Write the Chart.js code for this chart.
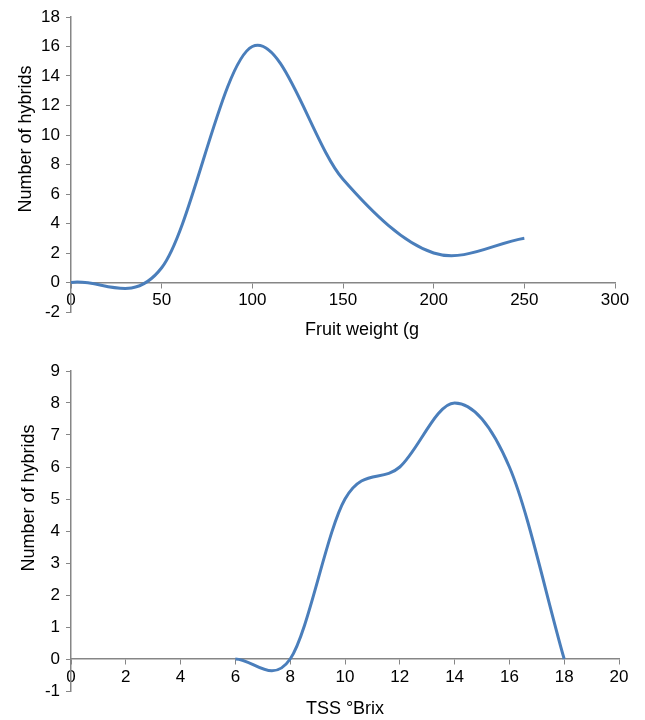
<!DOCTYPE html>
<html>
<head>
<meta charset="utf-8">
<script src="https://cdn.jsdelivr.net/npm/chart.js@4"></script>
<style>
  body { margin: 0; background: #fff; }
  canvas { display: block; }
</style>
</head>
<body>
<canvas id="weightChart" width="645" height="350"></canvas>
<canvas id="tssChart" width="645" height="370"></canvas>
<script>
// --- DATA ---
// Fruit weight (g) vs number of hybrids
const weightX = [0, 50, 100, 150, 200, 250];
const weightCount = [0, 1, 16, 7, 2, 3];
const weightXTicks = [0, 50, 100, 150, 200, 250, 300];
const weightYTicks = [-2, 0, 2, 4, 6, 8, 10, 12, 14, 16, 18];

// TSS (°Brix) vs number of hybrids
const tssX = [6, 8, 10, 12, 14, 16, 18];
const tssCount = [0, 0, 5, 6, 8, 6, 0];
const tssXTicks = [0, 2, 4, 6, 8, 10, 12, 14, 16, 18, 20];
const tssYTicks = [-1, 0, 1, 2, 3, 4, 5, 6, 7, 8, 9];

const FONT = '"Liberation Sans", Arial, sans-serif';
const AXIS_GREY = '#868686';
const LINE_BLUE = '#4a7ebb';

// draws the axis titles where the original figure has them
const axisTitles = {
  id: 'axisTitles',
  afterDraw(chart, args, opts) {
    const c = chart.ctx;
    c.save();
    c.fillStyle = '#000';
    c.font = '18px ' + FONT;
    c.textAlign = 'center';
    c.textBaseline = 'middle';
    c.fillText(opts.xText, opts.xPos[0], opts.xPos[1]);
    c.translate(opts.yPos[0], opts.yPos[1]);
    c.rotate(-Math.PI / 2);
    c.fillText(opts.yText, 0, 0);
    c.restore();
  }
};

// spreadsheet-style smoothing: Catmull-Rom control points (ends reflected)
// on top of the points chart.js already placed
const smoothLine = {
  id: 'smoothLine',
  beforeDatasetDraw(chart, args) {
    const line = args.meta.dataset;
    line.updateControlPoints(chart.chartArea, 'x');
    const pts = line.points;
    const n = pts.length;
    for (let i = 0; i < n; i++) {
      const p = pts[i];
      let dx, dy;
      if (i === 0) {
        dx = (pts[1].x - p.x) / 3; dy = (pts[1].y - p.y) / 3;
      } else if (i === n - 1) {
        dx = (p.x - pts[i - 1].x) / 3; dy = (p.y - pts[i - 1].y) / 3;
      } else {
        dx = (pts[i + 1].x - pts[i - 1].x) / 6; dy = (pts[i + 1].y - pts[i - 1].y) / 6;
      }
      p.cp1x = p.x - dx; p.cp1y = p.y - dy;
      p.cp2x = p.x + dx; p.cp2y = p.y + dy;
    }
    delete line._path;
  }
};

function makeChart(id, xs, ys, xTicks, yTicks, pad, titles) {
  const points = xs.map((x, i) => ({ x: x, y: ys[i] }));
  const tickStyle = { color: '#000', font: { family: FONT, size: 17 } };
  return new Chart(document.getElementById(id), {
    type: 'scatter',
    data: {
      datasets: [{
        data: points,
        showLine: true,
        borderColor: LINE_BLUE,
        borderWidth: 3,
        pointRadius: 0,
        tension: 0.4,
        fill: false
      }]
    },
    options: {
      responsive: false,
      animation: false,
      events: [],
      layout: { padding: pad },
      plugins: {
        legend: { display: false },
        tooltip: { enabled: false },
        axisTitles: titles
      },
      scales: {
        x: {
          type: 'linear',
          position: { y: 0 },
          min: xTicks[0],
          max: xTicks[xTicks.length - 1],
          afterBuildTicks: s => { s.ticks = xTicks.map(v => ({ value: v })); },
          ticks: Object.assign({ padding: 3, maxRotation: 0 }, tickStyle),
          grid: { drawOnChartArea: false, tickLength: 5, color: AXIS_GREY },
          border: { color: AXIS_GREY, width: 1.5 }
        },
        y: {
          min: yTicks[0],
          max: yTicks[yTicks.length - 1],
          afterBuildTicks: s => { s.ticks = yTicks.map(v => ({ value: v })); },
          afterFit: s => { s.width = 71; },
          ticks: Object.assign({ padding: 6 }, tickStyle),
          grid: { drawOnChartArea: false, tickLength: 5, color: AXIS_GREY },
          border: { color: AXIS_GREY, width: 1.5 }
        }
      }
    },
    plugins: [axisTitles, smoothLine]
  });
}

makeChart('weightChart', weightX, weightCount, weightXTicks, weightYTicks,
  { top: 17, bottom: 38, left: 0, right: 30 },
  { xText: 'Fruit weight (g', xPos: [362, 330], yText: 'Number of hybrids', yPos: [26, 139] });

makeChart('tssChart', tssX, tssCount, tssXTicks, tssYTicks,
  { top: 21, bottom: 29, left: 0, right: 26 },
  { xText: 'TSS °Brix', xPos: [345, 359], yText: 'Number of hybrids', yPos: [29, 148] });
</script>
</body>
</html>
